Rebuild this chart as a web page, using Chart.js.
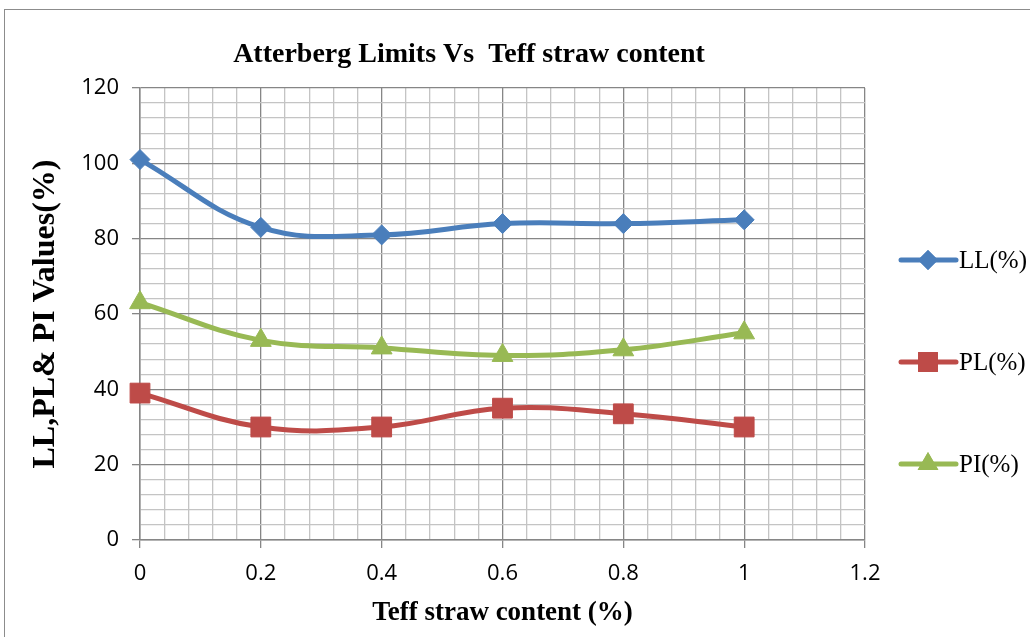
<!DOCTYPE html>
<html>
<head>
<meta charset="utf-8">
<script src="https://cdn.jsdelivr.net/npm/chart.js@4.4.1/dist/chart.umd.min.js"></script>
<style>
  html, body { margin: 0; padding: 0; background: #fff; overflow: hidden; }
  #frame { position: absolute; left: 4px; top: 9px; width: 1100px; height: 700px; border: 1.5px solid #8c8c8c; }
  #chart { position: absolute; left: 0; top: 0; }
</style>
</head>
<body>
<div id="frame"></div>
<canvas id="chart" width="1030" height="637"></canvas>
<script>
// data
const strawContent = [0, 0.2, 0.4, 0.6, 0.8, 1];
const llValues = [101, 83, 81, 84, 84, 85];
const plValues = [39, 30, 30, 35, 33.5, 30];
const piValues = [63, 53, 51, 49, 50.5, 55];
const seriesNames = ['LL(%)', 'PL(%)', 'PI(%)'];
const chartTitle = 'Atterberg Limits Vs  Teff straw content';
const xTitle = 'Teff straw content (%)';
const yTitle = 'LL,PL& PI Values(%)';

const colors = ['#4A7EBB', '#BE4B48', '#98B954'];
const markers = ['rectRot', 'rect', 'triangle'];
const markerRadius = [10, 14, 12];

const MAJOR = '#868686';
const MINOR = '#c4c4c4';

function isMajor(v, step) {
  const r = v / step;
  return Math.abs(r - Math.round(r)) < 1e-6;
}

function toPoints(ys) {
  return strawContent.map((x, i) => ({ x: x, y: ys[i] }));
}

function makeSet(label, ys, i) {
  return {
    label: label,
    data: toPoints(ys),
    borderColor: colors[i],
    backgroundColor: colors[i],
    borderWidth: 5,
    tension: 0.4,
    clip: false,
    pointStyle: markers[i],
    pointRadius: markerRadius[i],
    pointBorderWidth: 1,
    pointBorderColor: colors[i],
    pointBackgroundColor: colors[i]
  };
}

// title + legend drawn by hand to match the old office layout
const extrasPlugin = {
  id: 'extras',
  afterDraw(chart) {
    const ctx = chart.ctx;
    ctx.save();
    ctx.fillStyle = '#000';
    ctx.font = 'bold 28px "Liberation Serif"';
    ctx.textAlign = 'center';
    ctx.textBaseline = 'alphabetic';
    ctx.fillText(chartTitle, 469, 62);

    const rows = [260, 362, 464];
    chart.data.datasets.forEach((ds, i) => {
      const y = rows[i];
      ctx.strokeStyle = ds.borderColor;
      ctx.lineWidth = 5;
      ctx.lineCap = 'round';
      ctx.beginPath();
      ctx.moveTo(901, y);
      ctx.lineTo(956, y);
      ctx.stroke();
      ctx.fillStyle = ds.backgroundColor;
      Chart.helpers.drawPoint(ctx, { pointStyle: ds.pointStyle, radius: ds.pointRadius, rotation: 0, borderWidth: 0 }, 928, y);
      ctx.fill();
      ctx.fillStyle = '#000';
      ctx.font = '25px "Liberation Serif"';
      ctx.textAlign = 'left';
      ctx.textBaseline = 'middle';
      ctx.fillText(ds.label, 959, y + 1);
    });
    ctx.restore();
  }
};

const ctx = document.getElementById('chart').getContext('2d');
const chart = new Chart(ctx, {
  type: 'line',
  data: {
    datasets: [
      makeSet(seriesNames[0], llValues, 0),
      makeSet(seriesNames[1], plValues, 1),
      makeSet(seriesNames[2], piValues, 2)
    ]
  },
  options: {
    responsive: false,
    animation: false,
    layout: { padding: { top: 88, right: 165, left: 0, bottom: 0 } },
    plugins: {
      legend: { display: false },
      title: { display: false },
      tooltip: { enabled: false }
    },
    scales: {
      x: {
        type: 'linear',
        min: 0,
        max: 1.2,
        afterFit: s => { s.height = 97; },
        ticks: {
          stepSize: 0.04,
          autoSkip: false,
          maxRotation: 0,
          padding: 13,
          color: '#000',
          font: { family: '"Open Sans"', size: 22 },
          callback: v => isMajor(v, 0.2) ? String(Math.round(v * 10) / 10) : ''
        },
        grid: {
          color: c => c.tick && isMajor(c.tick.value, 0.2) ? MAJOR : MINOR,
          tickColor: c => c.tick && isMajor(c.tick.value, 0.2) ? MAJOR : 'rgba(0,0,0,0)',
          tickLength: 8,
          lineWidth: 1.3
        },
        border: { color: MAJOR, width: 1.5 },
        title: {
          display: true,
          text: xTitle,
          color: '#000',
          font: { family: '"Liberation Serif"', size: 27, weight: 'bold' },
          padding: { top: 0, bottom: 8 }
        }
      },
      y: {
        min: 0,
        max: 120,
        afterFit: s => { s.width = 140; },
        ticks: {
          stepSize: 4,
          autoSkip: false,
          padding: 13,
          color: '#000',
          font: { family: '"Open Sans"', size: 22 },
          callback: v => isMajor(v, 20) ? v : ''
        },
        grid: {
          color: c => c.tick && isMajor(c.tick.value, 20) ? MAJOR : MINOR,
          tickColor: c => c.tick && isMajor(c.tick.value, 20) ? MAJOR : 'rgba(0,0,0,0)',
          tickLength: 8,
          lineWidth: 1.3
        },
        border: { color: MAJOR, width: 1.5 },
        title: {
          display: true,
          text: yTitle,
          color: '#000',
          font: { family: '"Liberation Serif"', size: 32, weight: 'bold' },
          padding: { top: 27, bottom: 0 }
        }
      }
    }
  },
  plugins: [extrasPlugin]
});
</script>
</body>
</html>
